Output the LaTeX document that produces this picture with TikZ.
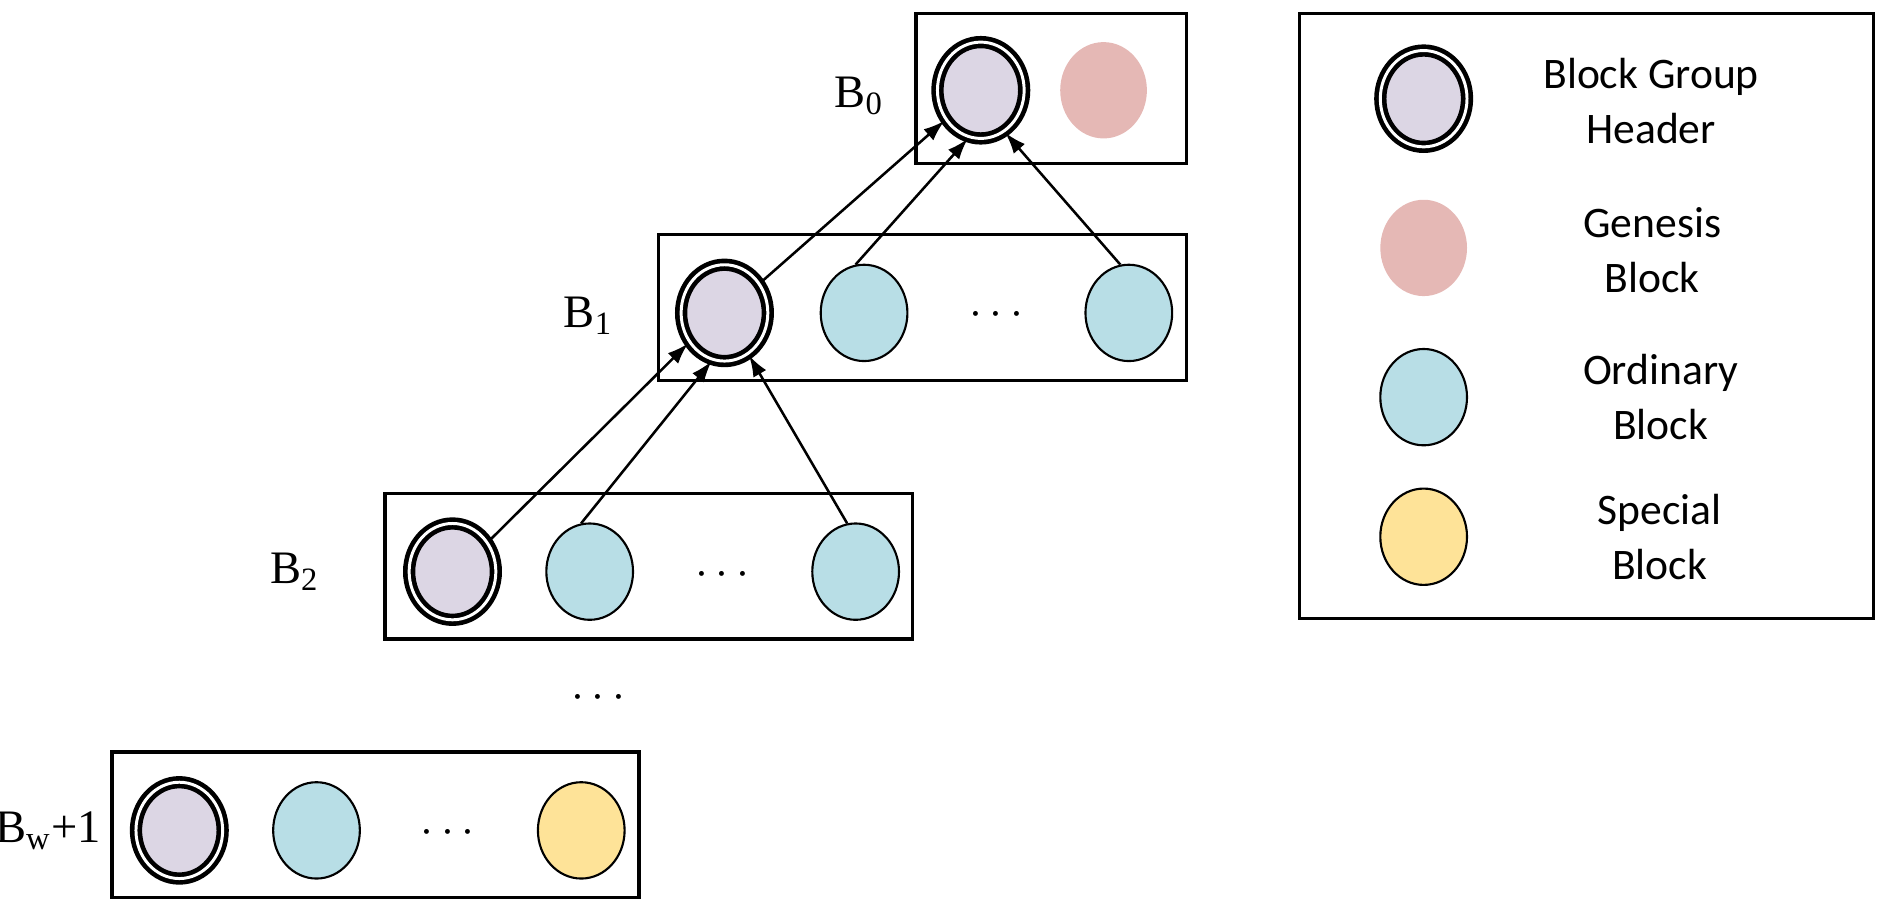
\documentclass[tikz,border=0pt]{standalone}
\usepackage{fontspec}
\setmainfont{Liberation Serif}
\newfontfamily\legfont{Carlito}
\usetikzlibrary{shapes.geometric,arrows.meta}
\definecolor{hdr}{RGB}{220,214,228}
\definecolor{gen}{RGB}{229,184,181}
\definecolor{ord}{RGB}{184,222,230}
\definecolor{spc}{RGB}{254,227,152}
\begin{document}
\begin{tikzpicture}[x=0.01cm,y=-0.01cm,
  blk/.style={ellipse,minimum width=0.72cm,minimum height=0.8cm,inner sep=0pt},
  header/.style={blk,fill=hdr,draw=black,line width=1.1pt,double=white,double distance=0.7pt},
  genesis/.style={blk,fill=gen},
  ordinary/.style={blk,fill=ord,draw=black,line width=0.5pt},
  special/.style={blk,fill=spc,draw=black,line width=0.5pt},
  box/.style={draw=black,line width=0.8pt},
  lbl/.style={font=\fontsize{11}{13}\selectfont},
  dots/.style={font=\fontsize{11}{13}\selectfont},
  leg/.style={font=\legfont\fontsize{10.3}{13}\selectfont,align=center},
  arr/.style={-{Latex[length=5pt,width=3.5pt]},line width=0.6pt}]
\useasboundingbox (0,0) rectangle (1568,757);
% boxes
\draw[box] (761,11) rectangle (986,136);
\draw[box] (547,195) rectangle (986,316);
\draw[box] (320,410) rectangle (758,531);
\draw[box] (93,625) rectangle (531,746);
\draw[box] (1080,11) rectangle (1557,514);
% B0
\node[header] (h0) at (815,75) {};
\node[genesis] (g0) at (917,75) {};
\node[lbl] (l0) at (714,80) {B\textsubscript{0}};
% B1
\node[header] (h1) at (602,260) {};
\node[ordinary] (a1) at (718,260) {};
\node[dots] (d1) at (828,262) {$\cdots$};
\node[ordinary] (b1) at (938,260) {};
\node[lbl] (l1) at (489,262) {B\textsubscript{1}};
% B2
\node[header] (h2) at (376,475) {};
\node[ordinary] (a2) at (490,475) {};
\node[dots] (d2) at (600,478) {$\cdots$};
\node[ordinary] (b2) at (711,475) {};
\node[lbl] (l2) at (245,475) {B\textsubscript{2}};
\node[dots] (dm) at (497,580) {$\cdots$};
% Bw+1
\node[header] (h3) at (149,690) {};
\node[ordinary] (a3) at (263,690) {};
\node[dots] (d3) at (372,692) {$\cdots$};
\node[special] (b3) at (483,690) {};
\node[lbl] (l3) at (40,690) {B\textsubscript{w}+1};
% arrows
\draw[arr] (h1.40) -- (h0.220);
\draw[arr] (a1.100) -- (h0.255);
\draw[arr] (b1.100) -- (h0.300);
\draw[arr] (h2.40) -- (h1.220);
\draw[arr] (a2.100) -- (h1.255);
\draw[arr] (b2.100) -- (h1.300);
% legend
\node[header] (k1) at (1183,82) {};
\node[leg] (t1) at (1372,84) {Block Group\\Header};
\node[genesis] (k2) at (1183,206) {};
\node[leg] (t2) at (1373,208) {Genesis\\Block};
\node[ordinary] (k3) at (1183,330) {};
\node[leg] (t3) at (1380,330) {Ordinary\\Block};
\node[special] (k4) at (1183,446) {};
\node[leg] (t4) at (1379,446) {Special\\Block};
\end{tikzpicture}
\end{document}
